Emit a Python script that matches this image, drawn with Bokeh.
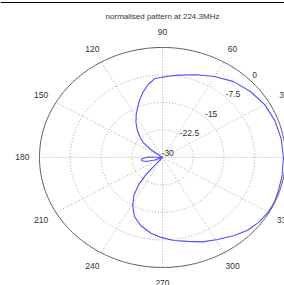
import numpy as np
from bokeh.plotting import figure
from bokeh.models import ColumnDataSource, Range1d, Label, Span
from bokeh.embed import file_html
from bokeh.resources import INLINE
from bokeh.core.properties import value

# ---------------- data ----------------
title_text = "normalised pattern at 224.3MHz"
angle_ticks = [0, 30, 60, 90, 120, 150, 180, 210, 240, 270, 300, 330]
label_angles = [30, 60, 90, 120, 150, 180, 210, 240, 270, 300, 330]
angle_labels = ["30", "60", "90", "120", "150", "180", "210", "240", "270", "300", "330"]
ring_db = [-30, -22.5, -15, -7.5, 0]
ring_labels = ["-30", "-22.5", "-15", "-7.5", "0"]

pattern_deg = [0, 10, 20, 30, 40, 50, 60, 70, 80, 85, 90, 95, 100, 105, 110, 118, 124,
               130, 135, 139, 143, 146, 172, 178, 184, 190, 195, 200, 203, 226, 229,
               232, 236, 241, 247, 254, 262, 269, 277, 285, 293, 301, 309, 316, 323,
               330, 336, 342, 350, 360]
pattern_db = [-0.5, -0.6, -0.8, -1.2, -2.0, -3.0, -4.5, -6.0, -7.2, -7.7, -8.1, -8.4, -9.8,
              -11.6, -13.5, -16.4, -18.4, -20.5, -22.3, -23.8, -26.5, -30, -30, -26.5,
              -25.0, -24.8, -25.8, -28, -30, -30, -24, -20.5, -17.5, -15, -12.5, -10.7,
              -9.2, -8.2, -7.2, -6.3, -5.0, -3.9, -2.5, -1.3, -0.6, -0.2, -0.1, -0.3,
              -0.4, -0.5]

DB_MIN, DB_MAX = -30.0, 0.0
TEXT_FONT = "Liberation Sans"
TEXT_COLOR = "#333333"


def to_r(db):
    return np.clip((np.asarray(db, dtype=float) - DB_MIN) / (DB_MAX - DB_MIN), 0.0, None)


# ---------------- figure ----------------
W, H = 284, 285
X0, X1 = -1.317, 0.992
Y0, Y1 = -1.164, 1.427
px_y = (Y1 - Y0) / H

p = figure(width=W, height=H, x_range=Range1d(X0, X1), y_range=Range1d(Y0, Y1),
           x_axis_type=None, y_axis_type=None, output_backend="svg",
           toolbar_location=None, min_border=0)
p.outline_line_color = None
p.background_fill_color = "white"
p.border_fill_color = "white"

# top rule of the page
p.add_layout(Span(location=Y1 - 2 * px_y, dimension="width", line_color="black", line_width=1.2))

# grid rings
t = np.linspace(0, 2 * np.pi, 361)
for db in ring_db[1:-1]:
    r = to_r(db)
    p.line(r * np.cos(t), r * np.sin(t), line_color="#a8a8a8", line_dash="1 2", line_width=1)

# spokes
for a in angle_ticks:
    th = np.deg2rad(a)
    p.line([0, np.cos(th)], [0, np.sin(th)], line_color="#a8a8a8", line_dash="1 2", line_width=1)

# outer circle
p.line(np.cos(t), np.sin(t), line_color="#5a5a5a", line_width=1)

# angle labels
th = np.deg2rad(label_angles)
lab_src = ColumnDataSource(dict(x=1.14 * np.cos(th), y=1.14 * np.sin(th), text=angle_labels))
p.text(x="x", y="y", text="text", source=lab_src, text_font=value(TEXT_FONT),
       text_font_size="8.5px", text_align="center", text_baseline="middle",
       text_color=TEXT_COLOR)

# ring labels along 45 deg
rr = to_r(ring_db) + 0.06
ring_src = ColumnDataSource(dict(x=rr * np.cos(np.pi / 4), y=rr * np.sin(np.pi / 4), text=ring_labels))
p.text(x="x", y="y", text="text", source=ring_src, text_font=value(TEXT_FONT),
       text_font_size="8.5px", text_align="center", text_baseline="middle",
       text_color=TEXT_COLOR)

# pattern curve
pr = to_r(pattern_db)
pth = np.deg2rad(pattern_deg)
p.line(pr * np.cos(pth), pr * np.sin(pth), line_color="#4d4dff", line_width=1.1)

# title
p.add_layout(Label(x=0, y=Y1 - 16 * px_y, text=title_text, text_font=TEXT_FONT,
                   text_font_size="8px", text_align="center", text_baseline="middle",
                   text_color=TEXT_COLOR))

open("out.html", "w").write(file_html(p, INLINE))
